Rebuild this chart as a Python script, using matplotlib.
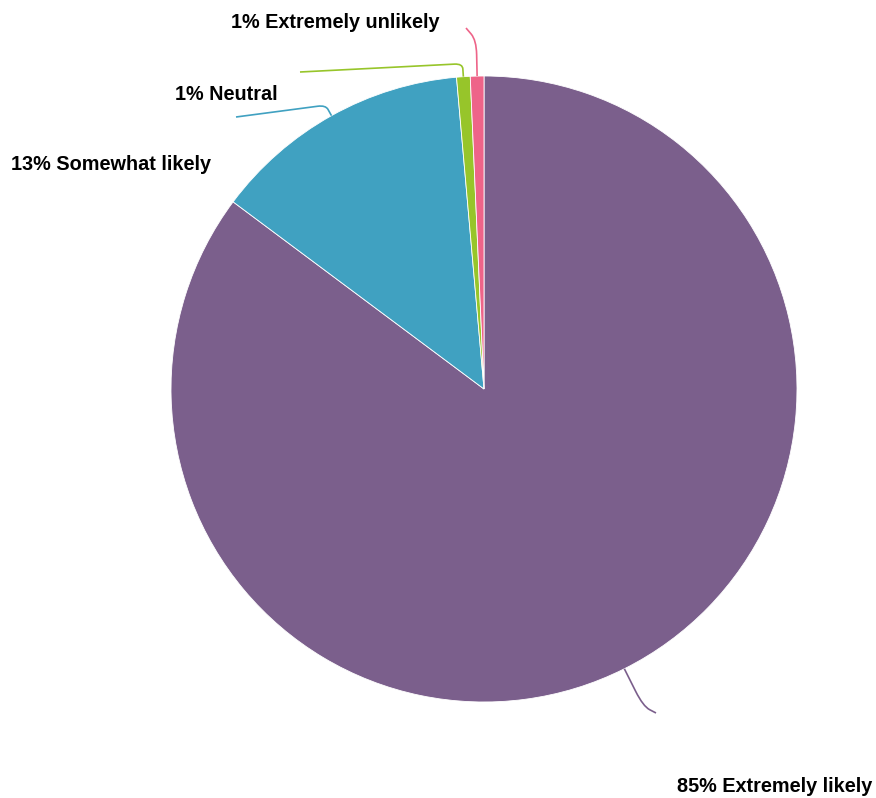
import numpy as np
import matplotlib.pyplot as plt
from matplotlib.path import Path
from matplotlib.patches import PathPatch

plt.rcParams['font.family'] = ['Liberation Sans', 'DejaVu Sans']

# survey answers, clockwise from 12 o'clock
labels = ['Extremely likely', 'Somewhat likely', 'Neutral', 'Extremely unlikely']
shares = [85.2, 13.4, 0.7, 0.7]
colors = ['#7b5f8c', '#40a1c1', '#97c52a', '#ee6489']

W, H = 876, 798
cx, cy, R = 484, 389, 313

# leader line: how far it runs out of the wedge, where it ends,
# and where the text sits (pixel coords, y down)
leader_out = [42, 12, 13, 36]
leader_end = [(656, 713), (236, 117), (300, 72), (466, 28)]
text_pos = [(872, 786, 'right'), (11, 165, 'left'), (175, 95, 'left'), (231, 23, 'left')]

fig = plt.figure(figsize=(W / 100, H / 100), dpi=100)
ax = fig.add_axes([0, 0, 1, 1])


def flip(x, y):
    return x, H - y


wedges, _ = ax.pie(shares, colors=colors, startangle=90, counterclock=False,
                   center=flip(cx, cy), radius=R, frame=True,
                   wedgeprops=dict(edgecolor='white', linewidth=0.6))
ax.set_xlim(0, W)
ax.set_ylim(0, H)
ax.set_aspect('equal')
ax.axis('off')

for w, d, end, col, (tx, ty, ha), lab, v in zip(wedges, leader_out, leader_end, colors,
                                                text_pos, labels, shares):
    mid = np.deg2rad((w.theta1 + w.theta2) / 2)
    ux, uy = np.cos(mid), np.sin(mid)
    x0, y0 = flip(cx, cy)
    start = (x0 + R * ux, y0 + R * uy)
    elbow = (x0 + (R + d) * ux, y0 + (R + d) * uy)
    ex, ey = flip(*end)
    # round the corner a little before running to the end point
    a = (x0 + (R + d * 0.6) * ux, y0 + (R + d * 0.6) * uy)
    vx, vy = ex - elbow[0], ey - elbow[1]
    n = np.hypot(vx, vy)
    b = (elbow[0] + vx / n * min(8, n * 0.5), elbow[1] + vy / n * min(8, n * 0.5))
    path = Path([start, a, elbow, b, (ex, ey)],
                [Path.MOVETO, Path.LINETO, Path.CURVE3, Path.CURVE3, Path.LINETO])
    ax.add_patch(PathPatch(path, fill=False, edgecolor=col, linewidth=1.2))
    ax.text(*flip(tx, ty), f'{round(v)}% {lab}', ha=ha, va='center',
            fontsize=14.3, fontweight='bold', color='black')

fig.savefig('out.png', dpi=100)
